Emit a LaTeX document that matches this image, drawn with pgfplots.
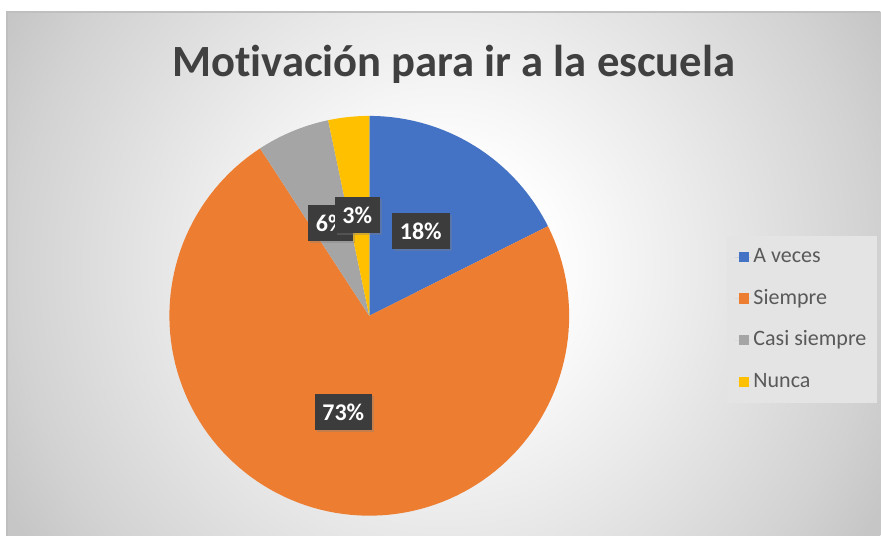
\documentclass[border=0pt]{standalone}
\usepackage{pgfplots}
\pgfplotsset{compat=1.18}
\usepackage{pgfplotstable}
\usepackage{fontspec}
\setmainfont{Carlito}[Ligatures=NoCommon]
\usetikzlibrary{shadows}
\definecolor{cA}{HTML}{4472C4}
\definecolor{cB}{HTML}{ED7D31}
\definecolor{cC}{HTML}{A5A5A5}
\definecolor{cD}{HTML}{FFC000}
\definecolor{lbl}{HTML}{3C3C3C}
\definecolor{ttl}{HTML}{404040}
\definecolor{leg}{HTML}{595959}
\definecolor{legbg}{HTML}{E4E4E4}
\definecolor{bgmid}{HTML}{EBEBEB}
\definecolor{bgedge}{HTML}{D2D2D2}
\definecolor{bgcorner}{HTML}{C6C6C6}
\pgfdeclareradialshading{bgshade}{\pgfpoint{0bp}{0bp}}{color(0bp)=(white); color(5bp)=(white); color(12.5bp)=(bgmid); color(21.5bp)=(bgedge); color(25bp)=(bgcorner); color(50bp)=(bgcorner)}

\pgfplotstableread[col sep=comma]{
label,value,color
A veces,17.6,cA
Siempre,73.2,cB
Casi siempre,5.9,cC
Nunca,3.3,cD
}\piedata

\begin{document}
\begin{tikzpicture}
\begin{axis}[
  scale only axis,
  width=660.75pt, height=402pt,
  xmin=0, xmax=881, ymin=0, ymax=536,
  hide axis, clip=false,
  legend cell align=left,
  legend image code/.code={\path (0pt,0pt) -- (12pt,0pt); \fill[#1] (3pt,-3.9pt) rectangle (11pt,3.9pt);},
  legend style={
    at={(0.8252,0.5597)}, anchor=north west,
    draw=none, fill=legbg,
    font=\fontsize{16.5}{19}\selectfont, text=leg,
    row sep=11.7pt, inner xsep=6pt, inner ysep=6pt,
    nodes={inner sep=2pt, text height=12pt, text depth=3.5pt},
  },
]
% background
\fill[white] (axis cs:0,0) rectangle (axis cs:881,536);
\begin{scope}
\clip (axis cs:7,0) rectangle (axis cs:881,524);
\shade[shading=bgshade] (axis cs:-56,-230) rectangle (axis cs:944,770);
\end{scope}
\draw[black!25, line width=0.8pt] (axis cs:7,0) -- (axis cs:7,524) -- (axis cs:881,524);

\xdef\startang{90}
\pgfplotsforeachungrouped \i in {0,...,3}{%
  \pgfplotstablegetelem{\i}{value}\of\piedata \let\val\pgfplotsretval
  \pgfplotstablegetelem{\i}{color}\of\piedata \let\col\pgfplotsretval
  \pgfplotstablegetelem{\i}{label}\of\piedata \let\lab\pgfplotsretval
  \pgfmathsetmacro\endang{\startang-3.6*\val}%
  \edef\tmp{\noexpand\addplot[fill=\col, draw=none, domain=\endang:\startang, samples=120, variable=\noexpand\t] ({369.5+200*cos(\noexpand\t)},{220+200*sin(\noexpand\t)}) -- (axis cs:369.5,220) -- cycle; \noexpand\addlegendentry{\lab}}%
  \tmp
  \xdef\startang{\endang}%
}

% title
\node[anchor=base, text=ttl, font=\bfseries\fontsize{33.5}{38}\selectfont] at (axis cs:454,459) {Motivación para ir a la escuela};

% data labels
\tikzset{dl/.style={fill=lbl, text=white, font=\bfseries\fontsize{18}{20}\selectfont, inner sep=0pt, minimum height=27pt, drop shadow={shadow xshift=1.5pt, shadow yshift=-1.5pt, opacity=0.35}}}
\node[dl, minimum width=43.5pt] at (axis cs:421,305) {18\%};
\node[dl, minimum width=42.5pt] at (axis cs:343.5,123.5) {73\%};
\node[dl, minimum width=34pt] at (axis cs:331,312.5) {6\%};
\node[dl, minimum width=34pt] at (axis cs:357.5,320.5) {3\%};
\end{axis}
\end{tikzpicture}
\end{document}
